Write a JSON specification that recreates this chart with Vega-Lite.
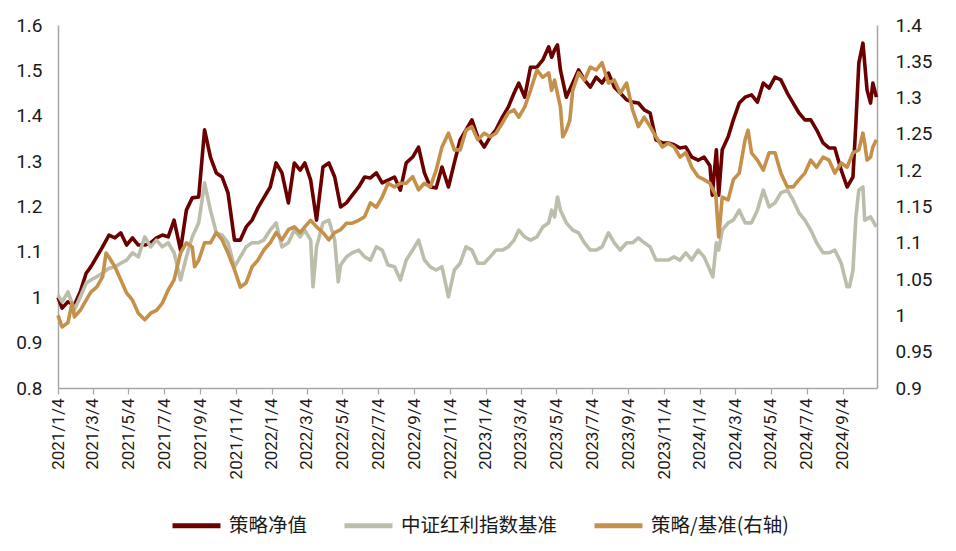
{
  "$schema": "https://vega.github.io/schema/vega-lite/v6.json",
  "width": 819,
  "height": 363,
  "autosize": {"type": "none"},
  "padding": {"left": 58, "top": 25, "right": 79, "bottom": 163},
  "background": "white",
  "config": {
    "view": {"stroke": null},
    "font": "Roboto",
    "axis": {"grid": false, "title": null, "domainColor": "#a6a6a6", "domainWidth": 1.5, "tickColor": "#a6a6a6", "labelColor": "#1a1a1a", "labelFont": "Roboto"}
  },
  "datasets": {
    "s": [
      {"date":"2021-01-04","value":1.0},{"date":"2021-01-11","value":0.976},{"date":"2021-01-21","value":0.99},{"date":"2021-02-01","value":0.983},{"date":"2021-02-11","value":1.012},{"date":"2021-02-21","value":1.053},{"date":"2021-03-01","value":1.067},{"date":"2021-03-11","value":1.089},{"date":"2021-03-21","value":1.111},{"date":"2021-04-01","value":1.137},{"date":"2021-04-11","value":1.131},{"date":"2021-04-21","value":1.142},{"date":"2021-05-01","value":1.115},{"date":"2021-05-11","value":1.131},{"date":"2021-05-21","value":1.115},{"date":"2021-06-01","value":1.115},{"date":"2021-06-11","value":1.12},{"date":"2021-06-21","value":1.131},{"date":"2021-07-01","value":1.137},{"date":"2021-07-11","value":1.133},{"date":"2021-07-21","value":1.17},{"date":"2021-08-01","value":1.104},{"date":"2021-08-11","value":1.192},{"date":"2021-08-21","value":1.219},{"date":"2021-09-01","value":1.221},{"date":"2021-09-11","value":1.369},{"date":"2021-09-21","value":1.309},{"date":"2021-10-01","value":1.274},{"date":"2021-10-11","value":1.265},{"date":"2021-10-21","value":1.23},{"date":"2021-11-01","value":1.126},{"date":"2021-11-11","value":1.126},{"date":"2021-11-21","value":1.155},{"date":"2021-12-01","value":1.17},{"date":"2021-12-11","value":1.197},{"date":"2021-12-21","value":1.219},{"date":"2022-01-01","value":1.243},{"date":"2022-01-11","value":1.296},{"date":"2022-01-21","value":1.274},{"date":"2022-02-01","value":1.208},{"date":"2022-02-11","value":1.296},{"date":"2022-02-21","value":1.28},{"date":"2022-03-01","value":1.296},{"date":"2022-03-11","value":1.258},{"date":"2022-03-21","value":1.17},{"date":"2022-04-01","value":1.287},{"date":"2022-04-11","value":1.296},{"date":"2022-04-21","value":1.265},{"date":"2022-05-01","value":1.199},{"date":"2022-05-11","value":1.208},{"date":"2022-05-21","value":1.225},{"date":"2022-06-01","value":1.243},{"date":"2022-06-11","value":1.265},{"date":"2022-06-21","value":1.263},{"date":"2022-07-01","value":1.274},{"date":"2022-07-11","value":1.252},{"date":"2022-07-21","value":1.258},{"date":"2022-08-01","value":1.265},{"date":"2022-08-11","value":1.236},{"date":"2022-08-21","value":1.296},{"date":"2022-09-01","value":1.309},{"date":"2022-09-11","value":1.331},{"date":"2022-09-21","value":1.274},{"date":"2022-10-01","value":1.243},{"date":"2022-10-11","value":1.241},{"date":"2022-10-21","value":1.287},{"date":"2022-11-01","value":1.243},{"date":"2022-11-11","value":1.296},{"date":"2022-11-21","value":1.347},{"date":"2022-12-01","value":1.369},{"date":"2022-12-11","value":1.391},{"date":"2022-12-21","value":1.353},{"date":"2023-01-01","value":1.331},{"date":"2023-01-11","value":1.353},{"date":"2023-01-21","value":1.369},{"date":"2023-02-01","value":1.397},{"date":"2023-02-11","value":1.419},{"date":"2023-02-21","value":1.45},{"date":"2023-03-01","value":1.472},{"date":"2023-03-11","value":1.441},{"date":"2023-03-21","value":1.507},{"date":"2023-04-01","value":1.507},{"date":"2023-04-11","value":1.523},{"date":"2023-04-21","value":1.552},{"date":"2023-04-26","value":1.529},{"date":"2023-05-01","value":1.545},{"date":"2023-05-06","value":1.556},{"date":"2023-05-11","value":1.501},{"date":"2023-05-21","value":1.441},{"date":"2023-06-01","value":1.472},{"date":"2023-06-11","value":1.501},{"date":"2023-06-21","value":1.479},{"date":"2023-07-01","value":1.463},{"date":"2023-07-11","value":1.485},{"date":"2023-07-21","value":1.472},{"date":"2023-08-01","value":1.494},{"date":"2023-08-11","value":1.463},{"date":"2023-08-21","value":1.45},{"date":"2023-09-01","value":1.435},{"date":"2023-09-11","value":1.43},{"date":"2023-09-21","value":1.428},{"date":"2023-10-01","value":1.413},{"date":"2023-10-11","value":1.406},{"date":"2023-10-21","value":1.347},{"date":"2023-11-01","value":1.34},{"date":"2023-11-11","value":1.34},{"date":"2023-11-21","value":1.336},{"date":"2023-12-01","value":1.329},{"date":"2023-12-11","value":1.331},{"date":"2023-12-21","value":1.309},{"date":"2024-01-01","value":1.302},{"date":"2024-01-11","value":1.309},{"date":"2024-01-21","value":1.29},{"date":"2024-01-25","value":1.225},{"date":"2024-02-01","value":1.325},{"date":"2024-02-05","value":1.225},{"date":"2024-02-11","value":1.325},{"date":"2024-02-21","value":1.353},{"date":"2024-03-01","value":1.391},{"date":"2024-03-11","value":1.428},{"date":"2024-03-21","value":1.441},{"date":"2024-04-01","value":1.446},{"date":"2024-04-11","value":1.43},{"date":"2024-04-21","value":1.472},{"date":"2024-05-01","value":1.461},{"date":"2024-05-11","value":1.485},{"date":"2024-05-21","value":1.479},{"date":"2024-06-01","value":1.45},{"date":"2024-06-11","value":1.428},{"date":"2024-06-21","value":1.406},{"date":"2024-07-01","value":1.391},{"date":"2024-07-11","value":1.391},{"date":"2024-07-21","value":1.369},{"date":"2024-08-01","value":1.34},{"date":"2024-08-11","value":1.329},{"date":"2024-08-21","value":1.329},{"date":"2024-09-01","value":1.28},{"date":"2024-09-11","value":1.243},{"date":"2024-09-21","value":1.265},{"date":"2024-09-26","value":1.384},{"date":"2024-10-01","value":1.516},{"date":"2024-10-08","value":1.56},{"date":"2024-10-15","value":1.457},{"date":"2024-10-21","value":1.428},{"date":"2024-10-25","value":1.472},{"date":"2024-10-31","value":1.441}
    ],
    "b": [
      {"date":"2021-01-04","value":1.005},{"date":"2021-01-11","value":0.99},{"date":"2021-01-21","value":1.012},{"date":"2021-02-01","value":0.972},{"date":"2021-02-11","value":1.001},{"date":"2021-02-21","value":1.031},{"date":"2021-03-01","value":1.038},{"date":"2021-03-11","value":1.045},{"date":"2021-03-21","value":1.053},{"date":"2021-04-01","value":1.064},{"date":"2021-04-11","value":1.067},{"date":"2021-04-21","value":1.075},{"date":"2021-05-01","value":1.082},{"date":"2021-05-11","value":1.098},{"date":"2021-05-21","value":1.089},{"date":"2021-06-01","value":1.133},{"date":"2021-06-11","value":1.111},{"date":"2021-06-21","value":1.126},{"date":"2021-07-01","value":1.111},{"date":"2021-07-11","value":1.12},{"date":"2021-07-21","value":1.098},{"date":"2021-08-01","value":1.038},{"date":"2021-08-11","value":1.089},{"date":"2021-08-21","value":1.133},{"date":"2021-09-01","value":1.164},{"date":"2021-09-11","value":1.252},{"date":"2021-09-21","value":1.192},{"date":"2021-10-01","value":1.142},{"date":"2021-10-11","value":1.137},{"date":"2021-10-21","value":1.12},{"date":"2021-11-01","value":1.067},{"date":"2021-11-11","value":1.089},{"date":"2021-11-21","value":1.111},{"date":"2021-12-01","value":1.12},{"date":"2021-12-11","value":1.12},{"date":"2021-12-21","value":1.126},{"date":"2022-01-01","value":1.148},{"date":"2022-01-11","value":1.164},{"date":"2022-01-21","value":1.111},{"date":"2022-02-01","value":1.12},{"date":"2022-02-11","value":1.148},{"date":"2022-02-21","value":1.133},{"date":"2022-03-01","value":1.148},{"date":"2022-03-11","value":1.126},{"date":"2022-03-15","value":1.023},{"date":"2022-03-21","value":1.111},{"date":"2022-04-01","value":1.164},{"date":"2022-04-11","value":1.17},{"date":"2022-04-21","value":1.126},{"date":"2022-04-27","value":1.034},{"date":"2022-05-01","value":1.071},{"date":"2022-05-11","value":1.089},{"date":"2022-05-21","value":1.098},{"date":"2022-06-01","value":1.104},{"date":"2022-06-11","value":1.089},{"date":"2022-06-21","value":1.082},{"date":"2022-07-01","value":1.111},{"date":"2022-07-11","value":1.104},{"date":"2022-07-21","value":1.071},{"date":"2022-08-01","value":1.067},{"date":"2022-08-11","value":1.038},{"date":"2022-08-21","value":1.082},{"date":"2022-09-01","value":1.104},{"date":"2022-09-11","value":1.126},{"date":"2022-09-21","value":1.082},{"date":"2022-10-01","value":1.067},{"date":"2022-10-11","value":1.06},{"date":"2022-10-21","value":1.067},{"date":"2022-11-01","value":1.001},{"date":"2022-11-11","value":1.06},{"date":"2022-11-21","value":1.075},{"date":"2022-12-01","value":1.111},{"date":"2022-12-11","value":1.104},{"date":"2022-12-21","value":1.075},{"date":"2023-01-01","value":1.075},{"date":"2023-01-11","value":1.089},{"date":"2023-01-21","value":1.104},{"date":"2023-02-01","value":1.104},{"date":"2023-02-11","value":1.111},{"date":"2023-02-21","value":1.126},{"date":"2023-03-01","value":1.148},{"date":"2023-03-11","value":1.133},{"date":"2023-03-21","value":1.126},{"date":"2023-04-01","value":1.133},{"date":"2023-04-11","value":1.155},{"date":"2023-04-21","value":1.164},{"date":"2023-04-26","value":1.192},{"date":"2023-05-01","value":1.177},{"date":"2023-05-06","value":1.221},{"date":"2023-05-11","value":1.192},{"date":"2023-05-21","value":1.164},{"date":"2023-06-01","value":1.148},{"date":"2023-06-11","value":1.142},{"date":"2023-06-21","value":1.12},{"date":"2023-07-01","value":1.104},{"date":"2023-07-11","value":1.104},{"date":"2023-07-21","value":1.111},{"date":"2023-08-01","value":1.142},{"date":"2023-08-11","value":1.12},{"date":"2023-08-21","value":1.104},{"date":"2023-09-01","value":1.12},{"date":"2023-09-11","value":1.12},{"date":"2023-09-21","value":1.131},{"date":"2023-10-01","value":1.12},{"date":"2023-10-11","value":1.111},{"date":"2023-10-21","value":1.082},{"date":"2023-11-01","value":1.082},{"date":"2023-11-11","value":1.082},{"date":"2023-11-21","value":1.089},{"date":"2023-12-01","value":1.082},{"date":"2023-12-11","value":1.098},{"date":"2023-12-21","value":1.082},{"date":"2024-01-01","value":1.104},{"date":"2024-01-11","value":1.089},{"date":"2024-01-21","value":1.06},{"date":"2024-01-26","value":1.045},{"date":"2024-02-01","value":1.12},{"date":"2024-02-05","value":1.104},{"date":"2024-02-11","value":1.148},{"date":"2024-02-21","value":1.164},{"date":"2024-03-01","value":1.17},{"date":"2024-03-11","value":1.192},{"date":"2024-03-21","value":1.164},{"date":"2024-04-01","value":1.164},{"date":"2024-04-11","value":1.192},{"date":"2024-04-21","value":1.236},{"date":"2024-05-01","value":1.199},{"date":"2024-05-11","value":1.208},{"date":"2024-05-21","value":1.23},{"date":"2024-06-01","value":1.236},{"date":"2024-06-11","value":1.214},{"date":"2024-06-21","value":1.186},{"date":"2024-07-01","value":1.17},{"date":"2024-07-11","value":1.148},{"date":"2024-07-21","value":1.12},{"date":"2024-08-01","value":1.098},{"date":"2024-08-11","value":1.098},{"date":"2024-08-21","value":1.104},{"date":"2024-09-01","value":1.075},{"date":"2024-09-11","value":1.023},{"date":"2024-09-15","value":1.023},{"date":"2024-09-21","value":1.06},{"date":"2024-09-26","value":1.177},{"date":"2024-10-01","value":1.236},{"date":"2024-10-08","value":1.243},{"date":"2024-10-11","value":1.17},{"date":"2024-10-21","value":1.177},{"date":"2024-10-31","value":1.155}
    ],
    "r": [
      {"date":"2021-01-04","value":1.0},{"date":"2021-01-11","value":0.984},{"date":"2021-01-21","value":0.99},{"date":"2021-01-28","value":1.017},{"date":"2021-02-01","value":0.998},{"date":"2021-02-11","value":1.007},{"date":"2021-02-21","value":1.021},{"date":"2021-03-01","value":1.032},{"date":"2021-03-11","value":1.039},{"date":"2021-03-21","value":1.053},{"date":"2021-03-27","value":1.086},{"date":"2021-04-01","value":1.08},{"date":"2021-04-11","value":1.067},{"date":"2021-04-21","value":1.049},{"date":"2021-05-01","value":1.031},{"date":"2021-05-11","value":1.021},{"date":"2021-05-21","value":1.003},{"date":"2021-06-01","value":0.994},{"date":"2021-06-11","value":1.003},{"date":"2021-06-21","value":1.007},{"date":"2021-07-01","value":1.017},{"date":"2021-07-11","value":1.035},{"date":"2021-07-21","value":1.049},{"date":"2021-08-01","value":1.086},{"date":"2021-08-11","value":1.1},{"date":"2021-08-21","value":1.094},{"date":"2021-08-25","value":1.067},{"date":"2021-09-01","value":1.076},{"date":"2021-09-11","value":1.1},{"date":"2021-09-21","value":1.1},{"date":"2021-10-01","value":1.114},{"date":"2021-10-11","value":1.104},{"date":"2021-10-21","value":1.086},{"date":"2021-11-01","value":1.063},{"date":"2021-11-11","value":1.039},{"date":"2021-11-21","value":1.045},{"date":"2021-12-01","value":1.067},{"date":"2021-12-11","value":1.076},{"date":"2021-12-21","value":1.09},{"date":"2022-01-01","value":1.1},{"date":"2022-01-11","value":1.114},{"date":"2022-01-21","value":1.104},{"date":"2022-02-01","value":1.118},{"date":"2022-02-11","value":1.122},{"date":"2022-02-21","value":1.114},{"date":"2022-03-01","value":1.122},{"date":"2022-03-11","value":1.131},{"date":"2022-03-21","value":1.122},{"date":"2022-04-01","value":1.114},{"date":"2022-04-11","value":1.104},{"date":"2022-04-21","value":1.114},{"date":"2022-05-01","value":1.118},{"date":"2022-05-11","value":1.127},{"date":"2022-05-21","value":1.127},{"date":"2022-06-01","value":1.131},{"date":"2022-06-11","value":1.136},{"date":"2022-06-21","value":1.155},{"date":"2022-07-01","value":1.149},{"date":"2022-07-11","value":1.163},{"date":"2022-07-21","value":1.182},{"date":"2022-08-01","value":1.177},{"date":"2022-08-11","value":1.182},{"date":"2022-08-21","value":1.182},{"date":"2022-09-01","value":1.191},{"date":"2022-09-11","value":1.173},{"date":"2022-09-21","value":1.182},{"date":"2022-10-01","value":1.177},{"date":"2022-10-11","value":1.2},{"date":"2022-10-21","value":1.232},{"date":"2022-11-01","value":1.251},{"date":"2022-11-11","value":1.228},{"date":"2022-11-21","value":1.228},{"date":"2022-12-01","value":1.255},{"date":"2022-12-11","value":1.26},{"date":"2022-12-21","value":1.242},{"date":"2023-01-01","value":1.251},{"date":"2023-01-11","value":1.246},{"date":"2023-01-21","value":1.251},{"date":"2023-02-01","value":1.265},{"date":"2023-02-11","value":1.279},{"date":"2023-02-21","value":1.283},{"date":"2023-03-01","value":1.273},{"date":"2023-03-11","value":1.287},{"date":"2023-03-21","value":1.31},{"date":"2023-04-01","value":1.338},{"date":"2023-04-11","value":1.328},{"date":"2023-04-21","value":1.334},{"date":"2023-04-26","value":1.31},{"date":"2023-05-01","value":1.324},{"date":"2023-05-11","value":1.287},{"date":"2023-05-15","value":1.246},{"date":"2023-05-21","value":1.255},{"date":"2023-05-27","value":1.269},{"date":"2023-06-01","value":1.31},{"date":"2023-06-11","value":1.334},{"date":"2023-06-21","value":1.324},{"date":"2023-07-01","value":1.342},{"date":"2023-07-11","value":1.338},{"date":"2023-07-21","value":1.348},{"date":"2023-08-01","value":1.32},{"date":"2023-08-11","value":1.324},{"date":"2023-08-21","value":1.306},{"date":"2023-09-01","value":1.32},{"date":"2023-09-11","value":1.283},{"date":"2023-09-21","value":1.26},{"date":"2023-10-01","value":1.273},{"date":"2023-10-11","value":1.26},{"date":"2023-10-21","value":1.246},{"date":"2023-11-01","value":1.232},{"date":"2023-11-11","value":1.237},{"date":"2023-11-21","value":1.232},{"date":"2023-12-01","value":1.218},{"date":"2023-12-11","value":1.224},{"date":"2023-12-21","value":1.204},{"date":"2024-01-01","value":1.191},{"date":"2024-01-11","value":1.187},{"date":"2024-01-21","value":1.182},{"date":"2024-01-26","value":1.173},{"date":"2024-01-31","value":1.166},{"date":"2024-02-05","value":1.108},{"date":"2024-02-11","value":1.163},{"date":"2024-02-21","value":1.159},{"date":"2024-03-01","value":1.187},{"date":"2024-03-11","value":1.196},{"date":"2024-03-21","value":1.242},{"date":"2024-03-26","value":1.255},{"date":"2024-04-01","value":1.224},{"date":"2024-04-11","value":1.214},{"date":"2024-04-21","value":1.2},{"date":"2024-05-01","value":1.224},{"date":"2024-05-11","value":1.224},{"date":"2024-05-21","value":1.196},{"date":"2024-06-01","value":1.177},{"date":"2024-06-11","value":1.177},{"date":"2024-06-21","value":1.187},{"date":"2024-07-01","value":1.196},{"date":"2024-07-11","value":1.214},{"date":"2024-07-21","value":1.204},{"date":"2024-08-01","value":1.218},{"date":"2024-08-11","value":1.214},{"date":"2024-08-21","value":1.196},{"date":"2024-09-01","value":1.21},{"date":"2024-09-11","value":1.204},{"date":"2024-09-21","value":1.224},{"date":"2024-10-01","value":1.228},{"date":"2024-10-08","value":1.251},{"date":"2024-10-11","value":1.237},{"date":"2024-10-15","value":1.214},{"date":"2024-10-21","value":1.218},{"date":"2024-10-25","value":1.232},{"date":"2024-10-31","value":1.242}
    ]
  },
  "encoding": {
    "x": {
      "field": "date",
      "type": "temporal",
      "scale": {"type": "utc", "domain": [{"year": 2021, "month": 1, "date": 4, "utc": true}, {"year": 2024, "month": 11, "date": 1, "utc": true}]},
      "axis": {
        "values": [
          {"year": 2021, "month": 1, "date": 4, "utc": true}, {"year": 2021, "month": 3, "date": 4, "utc": true}, {"year": 2021, "month": 5, "date": 4, "utc": true}, {"year": 2021, "month": 7, "date": 4, "utc": true}, {"year": 2021, "month": 9, "date": 4, "utc": true}, {"year": 2021, "month": 11, "date": 4, "utc": true},
          {"year": 2022, "month": 1, "date": 4, "utc": true}, {"year": 2022, "month": 3, "date": 4, "utc": true}, {"year": 2022, "month": 5, "date": 4, "utc": true}, {"year": 2022, "month": 7, "date": 4, "utc": true}, {"year": 2022, "month": 9, "date": 4, "utc": true}, {"year": 2022, "month": 11, "date": 4, "utc": true},
          {"year": 2023, "month": 1, "date": 4, "utc": true}, {"year": 2023, "month": 3, "date": 4, "utc": true}, {"year": 2023, "month": 5, "date": 4, "utc": true}, {"year": 2023, "month": 7, "date": 4, "utc": true}, {"year": 2023, "month": 9, "date": 4, "utc": true}, {"year": 2023, "month": 11, "date": 4, "utc": true},
          {"year": 2024, "month": 1, "date": 4, "utc": true}, {"year": 2024, "month": 3, "date": 4, "utc": true}, {"year": 2024, "month": 5, "date": 4, "utc": true}, {"year": 2024, "month": 7, "date": 4, "utc": true}, {"year": 2024, "month": 9, "date": 4, "utc": true}
        ],
        "labelExpr": "utcFormat(datum.value, '%Y/%-m/%-d')",
        "labelAngle": -90,
        "labelFontSize": 17,
        "labelPadding": 4,
        "tickSize": 6,
        "tickWidth": 1.2,
        "labelOverlap": false,
        "labelBound": false,
        "labelFlush": false
      }
    }
  },
  "layer": [
    {
      "layer": [
        {
          "data": {"name": "s"},
          "mark": {"type": "line", "strokeWidth": 3.6, "strokeJoin": "round"},
          "encoding": {
            "y": {"field": "value", "type": "quantitative", "scale": {"domain": [0.8, 1.6], "zero": false, "nice": false}, "axis": {"orient": "left", "values": [0.8, 0.9, 1.0, 1.1, 1.2, 1.3, 1.4, 1.5, 1.6], "format": "~g", "ticks": false, "labelFontSize": 19, "labelPadding": 16}},
            "color": {"datum": "策略净值", "type": "nominal", "scale": {"domain": ["策略净值", "中证红利指数基准", "策略/基准(右轴)"], "range": ["#6b0000", "#bcbdab", "#c59049"]}, "legend": {"orient": "none", "legendX": 112, "legendY": 474, "direction": "horizontal", "title": null, "symbolType": "stroke", "symbolStrokeWidth": 5, "symbolSize": 2300, "labelFont": "Noto Sans CJK SC", "labelFontSize": 19.5, "labelColor": "#1a1a1a", "labelOffset": 6, "columnPadding": 26, "labelLimit": 300}}
          }
        },
        {
          "data": {"name": "b"},
          "mark": {"type": "line", "strokeWidth": 3.6, "strokeJoin": "round"},
          "encoding": {
            "y": {"field": "value", "type": "quantitative", "scale": {"domain": [0.8, 1.6], "zero": false, "nice": false}, "axis": {"orient": "left", "values": [0.8, 0.9, 1.0, 1.1, 1.2, 1.3, 1.4, 1.5, 1.6], "format": "~g", "ticks": false, "labelFontSize": 19, "labelPadding": 16}},
            "color": {"datum": "中证红利指数基准", "type": "nominal", "scale": {"domain": ["策略净值", "中证红利指数基准", "策略/基准(右轴)"], "range": ["#6b0000", "#bcbdab", "#c59049"]}}
          }
        }
      ]
    },
    {
      "data": {"name": "r"},
      "mark": {"type": "line", "strokeWidth": 3.6, "strokeJoin": "round"},
      "encoding": {
        "y": {"field": "value", "type": "quantitative", "scale": {"domain": [0.9, 1.4], "zero": false, "nice": false}, "axis": {"orient": "right", "values": [0.9, 0.95, 1.0, 1.05, 1.1, 1.15, 1.2, 1.25, 1.3, 1.35, 1.4], "format": "~g", "ticks": false, "labelFontSize": 19, "labelPadding": 18}},
        "color": {"datum": "策略/基准(右轴)", "type": "nominal", "scale": {"domain": ["策略净值", "中证红利指数基准", "策略/基准(右轴)"], "range": ["#6b0000", "#bcbdab", "#c59049"]}}
      }
    }
  ],
  "resolve": {"scale": {"y": "independent"}}
}
